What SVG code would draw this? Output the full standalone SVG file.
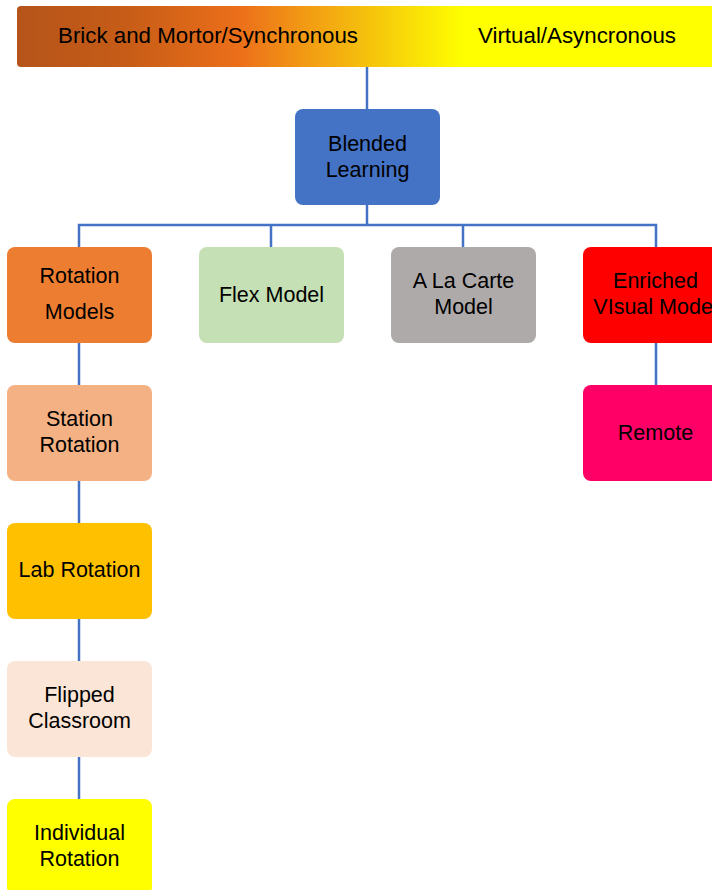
<svg xmlns="http://www.w3.org/2000/svg" width="712" height="890" viewBox="0 0 712 890">
<defs>
<linearGradient id="hdr" x1="0" y1="0" x2="1" y2="0" gradientUnits="objectBoundingBox">
<stop offset="0" stop-color="#B5541A"/>
<stop offset="0.15" stop-color="#C65C17"/>
<stop offset="0.31" stop-color="#EC6F1A"/>
<stop offset="0.4" stop-color="#F29A14"/>
<stop offset="0.52" stop-color="#F7D10A"/>
<stop offset="0.62" stop-color="#FFFF00"/>
<stop offset="1" stop-color="#FFFF00"/>
</linearGradient>
<style>
.t{font-family:"Liberation Sans","Noto Sans",sans-serif;font-size:21.5px;fill:#000;text-anchor:middle;dominant-baseline:central}
.h{font-family:"Liberation Sans","Noto Sans",sans-serif;font-size:21.5px;fill:#000;dominant-baseline:central}
.c{stroke:#4472C4;stroke-width:2.5;fill:none}
</style>
</defs>
<rect x="0" y="0" width="712" height="890" fill="#fff"/>
<g id="header">
<rect x="17" y="6" width="720" height="61" rx="4" fill="url(#hdr)"/>
<text class="h" x="58" y="36" textLength="300" lengthAdjust="spacingAndGlyphs">Brick and Mortor/Synchronous</text>
<text class="h" x="478" y="36" textLength="198" lengthAdjust="spacingAndGlyphs">Virtual/Asyncronous</text>
</g>
<g id="connectors">
<path class="c" d="M367 67V110"/>
<path class="c" d="M367 205V225"/>
<path class="c" d="M79 247V225H656V247"/>
<path class="c" d="M271 225V247"/>
<path class="c" d="M463 225V247"/>
<path class="c" d="M79 343V385"/>
<path class="c" d="M79 481V523"/>
<path class="c" d="M79 619V661"/>
<path class="c" d="M79 757V799"/>
<path class="c" d="M656 343V385"/>
</g>
<g id="blended">
<rect x="295" y="109" width="145" height="96" rx="8" fill="#4472C4"/>
<text class="t" x="367.5" y="144">Blended</text>
<text class="t" x="367.5" y="170">Learning</text>
</g>
<g id="rotation">
<rect x="7" y="247" width="145" height="96" rx="8" fill="#ED7D31"/>
<text class="t" x="79.5" y="276">Rotation</text>
<text class="t" x="79.5" y="312">Models</text>
</g>
<g id="flex">
<rect x="199" y="247" width="145" height="96" rx="8" fill="#C5E0B4"/>
<text class="t" x="271.5" y="295">Flex Model</text>
</g>
<g id="alacarte">
<rect x="391" y="247" width="145" height="96" rx="8" fill="#AEAAAA"/>
<text class="t" x="463.5" y="281">A La Carte</text>
<text class="t" x="463.5" y="307">Model</text>
</g>
<g id="enriched">
<rect x="583" y="247" width="145" height="96" rx="8" fill="#FF0000"/>
<text class="t" x="655.5" y="281">Enriched</text>
<text class="t" x="655.5" y="307">VIsual Model</text>
</g>
<g id="remote">
<rect x="583" y="385" width="145" height="96" rx="8" fill="#FF0066"/>
<text class="t" x="655.5" y="433">Remote</text>
</g>
<g id="station">
<rect x="7" y="385" width="145" height="96" rx="8" fill="#F4B183"/>
<text class="t" x="79.5" y="419">Station</text>
<text class="t" x="79.5" y="445">Rotation</text>
</g>
<g id="lab">
<rect x="7" y="523" width="145" height="96" rx="8" fill="#FFC000"/>
<text class="t" x="79.5" y="570">Lab Rotation</text>
</g>
<g id="flipped">
<rect x="7" y="661" width="145" height="96" rx="8" fill="#FBE5D6"/>
<text class="t" x="79.5" y="695">Flipped</text>
<text class="t" x="79.5" y="721">Classroom</text>
</g>
<g id="individual">
<rect x="7" y="799" width="145" height="96" rx="8" fill="#FFFF00"/>
<text class="t" x="79.5" y="833">Individual</text>
<text class="t" x="79.5" y="859">Rotation</text>
</g>
</svg>
